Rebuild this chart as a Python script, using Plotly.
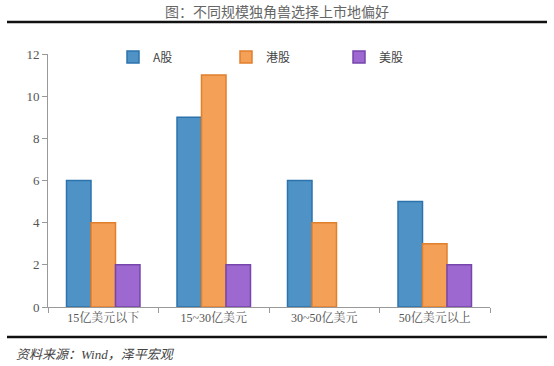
import plotly.graph_objects as go

categories = ["15亿美元以下", "15~30亿美元", "30~50亿美元", "50亿美元以上"]
a_shares = [6, 9, 6, 5]
hk_shares = [4, 11, 4, 3]
us_shares = [2, 2, 0, 2]
series_names = ["A股", "港股", "美股"]
y_ticks = [0, 2, 4, 6, 8, 10, 12]

W, H = 554, 366
L, R, T, B = 48, 64, 54, 59
pw, ph = W - L - R, H - T - B

def px_x(x):
    return (x - L) / pw

def px_y(y):
    return (H - B - y) / ph

colors = ["#4f93c6", "#f4a157", "#9d68cf"]
edges = ["#2c73ad", "#e07f2c", "#7646ad"]
legend_ids = ["legend", "legend2", "legend3"]
legend_x = [113, 226, 339]

fig = go.Figure()
for name, vals, c, e, lid in zip(series_names, [a_shares, hk_shares, us_shares], colors, edges, legend_ids):
    fig.add_trace(go.Bar(
        x=categories, y=vals, name=name, legend=lid,
        marker=dict(color=c, line=dict(color=e, width=[1.5 if v else 0 for v in vals])),
    ))

legend_common = dict(
    orientation="h", yanchor="middle", xanchor="left",
    font=dict(family="Noto Sans CJK SC, sans-serif", size=12, color="#444444"),
    bgcolor="rgba(0,0,0,0)", itemwidth=30,
)

layout_legends = {}
for lid, lx in zip(legend_ids, legend_x):
    layout_legends[lid] = dict(legend_common, x=px_x(lx), y=px_y(57))

fig.update_layout(
    width=W, height=H,
    margin=dict(l=L, r=R, t=T, b=B),
    paper_bgcolor="white", plot_bgcolor="white",
    barmode="group", bargap=0.335, bargroupgap=0.0,
    font=dict(family="Liberation Serif, Noto Sans CJK SC, serif", color="#555555", size=12),
    showlegend=True,
    xaxis=dict(
        showline=True, linecolor="#999999", linewidth=1,
        ticks="outside", tickson="boundaries", ticklen=5, tickcolor="#999999",
        tickfont=dict(family="Liberation Serif, Noto Serif CJK SC, Noto Sans CJK SC", size=12, color="#555555"),
        showgrid=False,
    ),
    yaxis=dict(
        range=[0, 12], tickvals=y_ticks,
        showline=True, linecolor="#999999", linewidth=1,
        ticks="outside", ticklen=5, tickcolor="#999999",
        tickfont=dict(family="Liberation Serif, serif", size=13, color="#555555"),
        showgrid=False, zeroline=False,
    ),
    shapes=[
        dict(type="line", xref="paper", yref="paper", x0=px_x(7), x1=px_x(547),
             y0=px_y(22), y1=px_y(22), line=dict(color="#111111", width=2.5)),
        dict(type="line", xref="paper", yref="paper", x0=px_x(7), x1=px_x(547),
             y0=px_y(337), y1=px_y(337), line=dict(color="#111111", width=2.5)),
    ],
    annotations=[
        dict(text="图：不同规模独角兽选择上市地偏好", xref="paper", yref="paper",
             x=px_x(277), y=px_y(11), xanchor="center", yanchor="middle", showarrow=False,
             font=dict(family="Noto Sans CJK SC, sans-serif", size=14, color="#666666")),
        dict(text="<i>资料来源：Wind，泽平宏观</i>", xref="paper", yref="paper",
             x=px_x(14), y=px_y(354), xanchor="left", yanchor="middle", showarrow=False,
             font=dict(family="Liberation Serif, Noto Sans CJK SC", size=13, color="#444444")),
    ],
    **layout_legends,
)

fig.write_html("out.html", config={"displayModeBar": False},
               post_script="document.body.style.margin='0';document.body.style.padding='0';")
